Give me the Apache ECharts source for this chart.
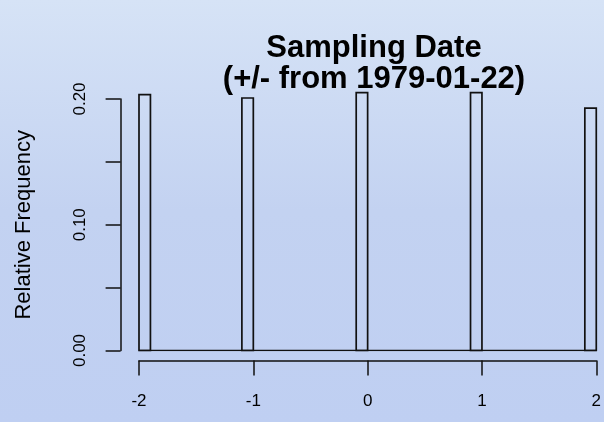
<!DOCTYPE html>
<html>
<head>
<meta charset="utf-8">
<script src="https://cdn.jsdelivr.net/npm/echarts@6/dist/echarts.min.js"></script>
<style>
html,body{margin:0;padding:0;}
#chart{width:604px;height:422px;background:linear-gradient(to bottom,#d6e3f6 0%,#c3d2f1 50%,#bfcff2 100%);}
</style>
</head>
<body>
<div id="chart"></div>
<script>
// Histogram bins (offset in days from 1979-01-22), only non-empty bins listed
const binLeft  = [-2.0, -1.1, -0.1, 0.9, 1.9];
const binRight = [-1.9, -1.0,  0.0, 1.0, 2.0];
const relFreq  = [0.2035, 0.2008, 0.2050, 0.2050, 0.1927];
// full histogram range (empty bins form the baseline)
const histRange = [-2, 2];
const xTicks = [-2, -1, 0, 1, 2];
const yTickLabels = ['0.00', '0.10', '0.20'];

const chart = echarts.init(document.getElementById('chart'), null, {renderer: 'canvas'});
const ink = '#111111';
const barData = binLeft.map((l, i) => [l, binRight[i], relFreq[i]]);

chart.setOption({
  backgroundColor: 'transparent',
  animation: false,
  title: {
    text: 'Sampling Date\n(+/- from 1979-01-22)',
    left: 369,
    top: 28,
    textAlign: 'center',
    textStyle: {fontFamily: 'Liberation Sans, Arial', fontWeight: 'bold', fontSize: 31, lineHeight: 31, color: '#000'}
  },
  grid: {left: 139, right: 4, top: 99, bottom: 71.5},
  xAxis: {
    type: 'value', min: histRange[0], max: histRange[1], interval: 1,
    offset: 10,
    axisLine: {show: true, onZero: false, lineStyle: {color: ink, width: 1.5}},
    axisTick: {show: true, length: 15, lineStyle: {color: ink, width: 1.5}},
    axisLabel: {fontFamily: 'Liberation Sans, Arial', fontSize: 17, color: '#000', margin: 32,
      showMinLabel: true, showMaxLabel: true},
    splitLine: {show: false}
  },
  yAxis: {
    type: 'value', min: 0, max: 0.2, interval: 0.05,
    offset: 18.4,
    name: 'Relative Frequency', nameLocation: 'middle', nameRotate: 90, nameGap: 86,
    nameTextStyle: {fontFamily: 'Liberation Sans, Arial', fontSize: 22, color: '#000'},
    axisLine: {show: true, onZero: false, lineStyle: {color: ink, width: 1.5}},
    axisTick: {show: true, length: 15, lineStyle: {color: ink, width: 1.5}},
    axisLabel: {fontFamily: 'Liberation Sans, Arial', fontSize: 17, color: '#000', margin: 32, rotate: 90,
      formatter: v => { const s = v.toFixed(2); return yTickLabels.indexOf(s) >= 0 ? s : ''; }},
    splitLine: {show: false}
  },
  series: [
    {
      type: 'line',
      data: [[histRange[0], 0], [histRange[1], 0]],
      symbol: 'none',
      lineStyle: {color: ink, width: 1.7},
      z: 2
    },
    {
      type: 'custom',
      clip: false,
      data: barData,
      renderItem: function (params, api) {
        const p0 = api.coord([api.value(0), 0]);
        const p1 = api.coord([api.value(1), api.value(2)]);
        return {
          type: 'rect',
          shape: {x: p0[0], y: p1[1], width: p1[0] - p0[0], height: p0[1] - p1[1]},
          style: {fill: 'rgba(0,0,0,0)', stroke: ink, lineWidth: 1.7}
        };
      },
      z: 3
    }
  ]
});
</script>
</body>
</html>
